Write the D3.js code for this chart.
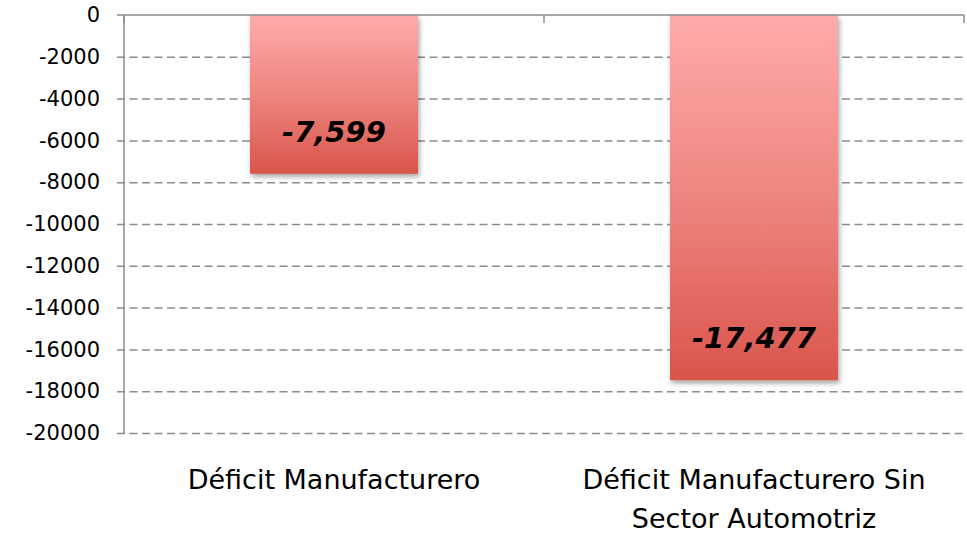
<!DOCTYPE html>
<html>
<head>
  <meta charset="utf-8">
  <script src="https://cdnjs.cloudflare.com/ajax/libs/d3/7.8.5/d3.min.js"></script>
  <style>
    body { margin: 0; background: #fff; font-family: "DejaVu Sans", sans-serif; }
    svg { display: block; }
  </style>
</head>
<body>
<svg width="967" height="536"></svg>
<script>
// data
var categories = ["Déficit Manufacturero", "Déficit Manufacturero Sin Sector Automotriz"];
var categoryLines = [["Déficit Manufacturero"], ["Déficit Manufacturero Sin", "Sector Automotriz"]];
var values = [-7599, -17477];
var yTicks = [0, -2000, -4000, -6000, -8000, -10000, -12000, -14000, -16000, -18000, -20000];

var svg = d3.select("svg");
var plotLeft = 124, plotRight = 964, plotTop = 15, plotBottom = 433;
var font = "'DejaVu Sans', sans-serif";

// plain hyphen as minus sign, like the original
var locale = d3.formatLocale({ decimal: ".", thousands: ",", grouping: [3], currency: ["$", ""], minus: "-" });

var x = d3.scaleBand()
  .domain(categories)
  .range([plotLeft, plotRight])
  .paddingInner(0.6)
  .paddingOuter(0.3);

var y = d3.scaleLinear()
  .domain([0, -20000])
  .range([plotTop, plotBottom]);

var defs = svg.append("defs");
var grad = defs.append("linearGradient")
  .attr("id", "barGrad")
  .attr("x1", 0).attr("y1", 0).attr("x2", 0).attr("y2", 1);
grad.append("stop").attr("offset", "0%").attr("stop-color", "#ffabab");
grad.append("stop").attr("offset", "50%").attr("stop-color", "#ee8580");
grad.append("stop").attr("offset", "100%").attr("stop-color", "#d9554b");

var shadow = defs.append("filter").attr("id", "shadow")
  .attr("x", "-10%").attr("y", "-10%").attr("width", "130%").attr("height", "130%");
shadow.append("feDropShadow")
  .attr("dx", 1.5).attr("dy", 3).attr("stdDeviation", 2.5)
  .attr("flood-color", "#000").attr("flood-opacity", 0.35);

// gridlines (dashed) with the y ticks
var yAxis = d3.axisLeft(y)
  .tickValues(yTicks)
  .tickSize(-(plotRight - plotLeft) - 7)
  .tickPadding(17)
  .tickFormat(locale.format("d"));

var gy = svg.append("g")
  .attr("transform", "translate(" + (plotLeft - 7) + ",0)")
  .call(yAxis);
gy.select(".domain").remove();
gy.selectAll(".tick line")
  .attr("stroke", "#8c8c8c")
  .attr("stroke-width", 1.5)
  .attr("stroke-dasharray", "8,4.5");
gy.selectAll(".tick").filter(function (d) { return d === 0; }).select("line").remove();
gy.selectAll(".tick text")
  .attr("font-family", font)
  .attr("font-size", "21px")
  .attr("fill", "#000");

// y axis line
svg.append("line")
  .attr("x1", plotLeft).attr("x2", plotLeft)
  .attr("y1", y(0)).attr("y2", y(-20000))
  .attr("stroke", "#8c8c8c").attr("stroke-width", 1.5);

// bars
svg.selectAll("rect.bar")
  .data(values)
  .enter().append("rect")
  .attr("class", "bar")
  .attr("x", function (d, i) { return x(categories[i]); })
  .attr("width", x.bandwidth())
  .attr("y", y(0))
  .attr("height", function (d) { return y(d) - y(0); })
  .attr("fill", "url(#barGrad)")
  .attr("filter", "url(#shadow)");

// x axis at zero, ticks pointing down between categories
var gx = svg.append("g")
  .attr("transform", "translate(0," + y(0) + ")");
gx.append("line")
  .attr("x1", plotLeft - 7).attr("x2", plotRight)
  .attr("stroke", "#8c8c8c").attr("stroke-width", 1.5);
var bounds = [plotLeft, plotLeft + x.step(), plotRight];
gx.selectAll("line.xt")
  .data(bounds)
  .enter().append("line")
  .attr("class", "xt")
  .attr("x1", function (d) { return d; }).attr("x2", function (d) { return d; })
  .attr("y1", 0).attr("y2", 8)
  .attr("stroke", "#8c8c8c").attr("stroke-width", 1.5);

// value labels
svg.selectAll("text.val")
  .data(values)
  .enter().append("text")
  .attr("class", "val")
  .attr("x", function (d, i) { return x(categories[i]) + x.bandwidth() / 2; })
  .attr("y", function (d) { return y(d) - 32; })
  .attr("text-anchor", "middle")
  .attr("font-family", font)
  .attr("font-weight", "bold")
  .attr("font-style", "italic")
  .attr("font-size", "29px")
  .attr("fill", "#000")
  .text(function (d) { return locale.format(",")(d); });

// category labels
categoryLines.forEach(function (lines, i) {
  var cx = x(categories[i]) + x.bandwidth() / 2;
  var t = svg.append("text")
    .attr("x", cx)
    .attr("y", 489)
    .attr("text-anchor", "middle")
    .attr("font-family", font)
    .attr("font-size", "27px")
    .attr("fill", "#000");
  lines.forEach(function (s, j) {
    t.append("tspan")
      .attr("x", cx)
      .attr("dy", j === 0 ? 0 : 39)
      .text(s);
  });
});
</script>
</body>
</html>
